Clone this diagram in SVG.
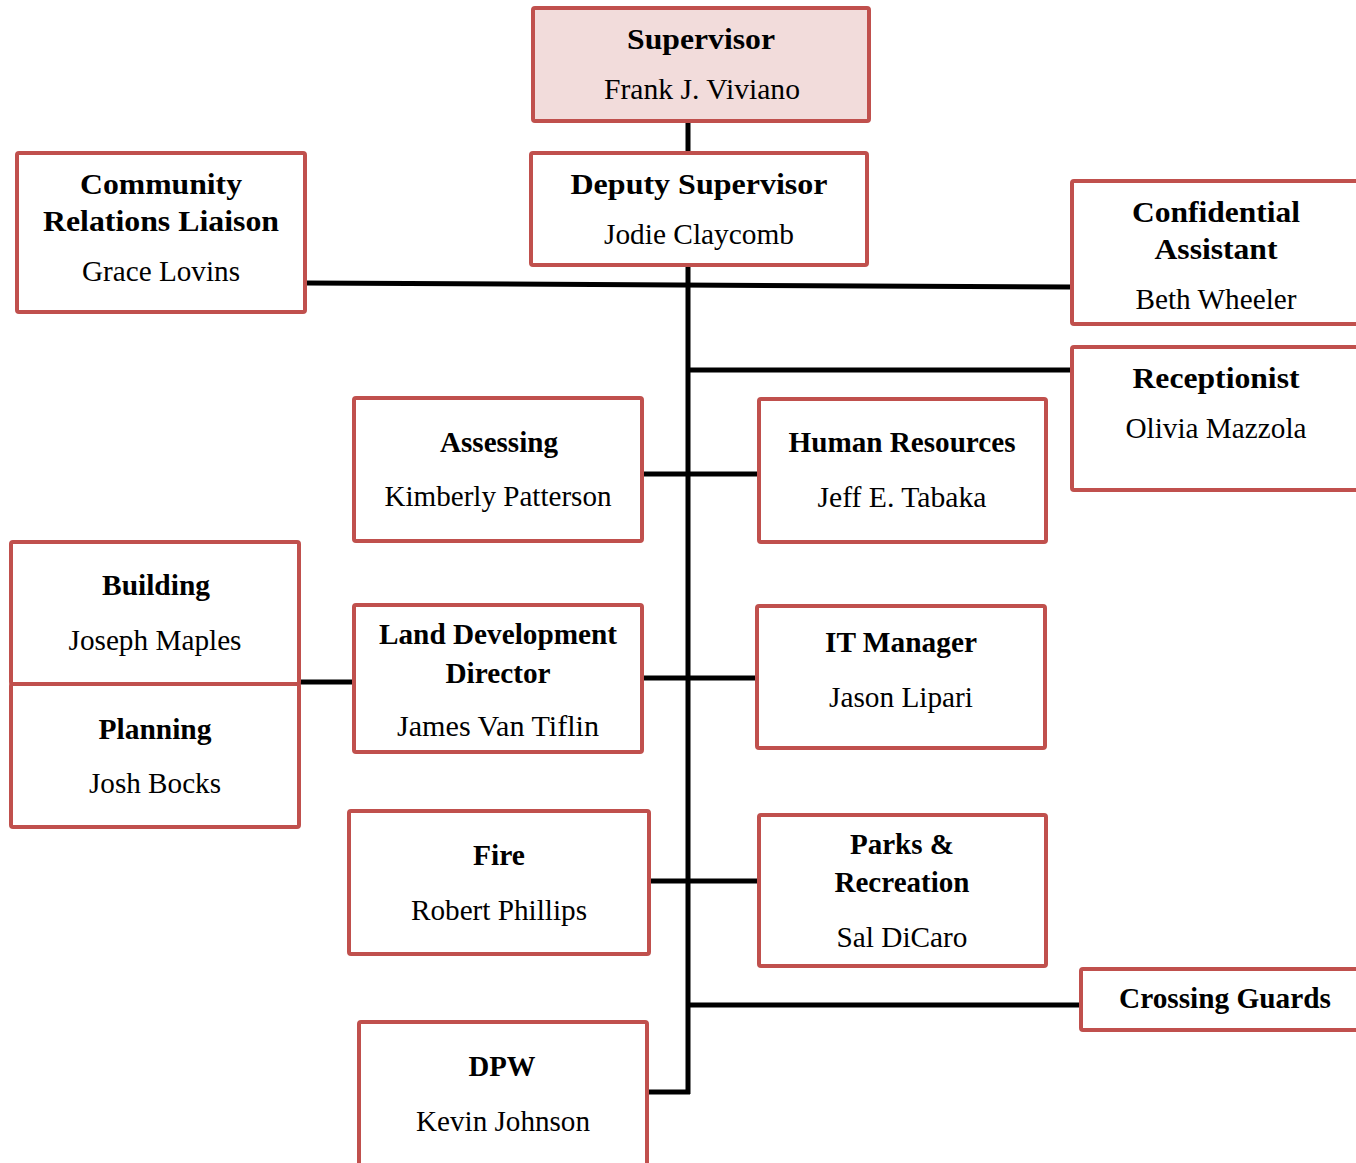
<svg xmlns="http://www.w3.org/2000/svg" width="1356" height="1163" viewBox="0 0 1356 1163">
<style>
.box{fill:#ffffff;stroke:#c0504d;stroke-width:4}
.top{fill:#f2dcdb}
.t{font-family:"Liberation Serif","Times New Roman",serif;font-weight:bold;font-size:30px;text-anchor:middle;fill:#000}
.n{font-family:"Liberation Serif","Times New Roman",serif;font-size:29px;text-anchor:middle;fill:#000}
.c{stroke:#000;stroke-width:5;fill:none}
</style>
<rect width="1356" height="1163" fill="#fff"/>
<g id="connectors">
<line class="c" x1="688" y1="122" x2="688" y2="152"/>
<line class="c" x1="688" y1="266" x2="688" y2="1094"/>
<line class="c" x1="306" y1="283" x2="1071" y2="287"/>
<line class="c" x1="688" y1="370" x2="1071" y2="370"/>
<line class="c" x1="643" y1="474" x2="758" y2="474"/>
<line class="c" x1="300" y1="682" x2="353" y2="682"/>
<line class="c" x1="643" y1="678" x2="756" y2="678"/>
<line class="c" x1="650" y1="881" x2="758" y2="881"/>
<line class="c" x1="688" y1="1005" x2="1080" y2="1005"/>
<line class="c" x1="648" y1="1092" x2="690" y2="1092"/>
</g>
<g id="supervisor">
<rect class="box top" x="533" y="8" width="336" height="113" rx="2"/>
<text class="t" x="701" y="49" font-size="31" textLength="148" lengthAdjust="spacingAndGlyphs">Supervisor</text>
<text class="n" x="702" y="99" textLength="196" lengthAdjust="spacingAndGlyphs">Frank J. Viviano</text>
</g>
<g id="deputy">
<rect class="box" x="531" y="153" width="336" height="112" rx="2"/>
<text class="t" x="699" y="194" font-size="31" textLength="257" lengthAdjust="spacingAndGlyphs">Deputy Supervisor</text>
<text class="n" x="699" y="244" textLength="190" lengthAdjust="spacingAndGlyphs">Jodie Claycomb</text>
</g>
<g id="community">
<rect class="box" x="17" y="153" width="288" height="159" rx="2"/>
<text class="t" x="161" y="194" textLength="162" lengthAdjust="spacingAndGlyphs">Community</text>
<text class="t" x="161" y="231" textLength="236" lengthAdjust="spacingAndGlyphs">Relations Liaison</text>
<text class="n" x="161" y="281" textLength="158" lengthAdjust="spacingAndGlyphs">Grace Lovins</text>
</g>
<g id="confidential">
<rect class="box" x="1072" y="181" width="300" height="143" rx="2"/>
<text class="t" x="1216" y="222" textLength="168" lengthAdjust="spacingAndGlyphs">Confidential</text>
<text class="t" x="1216" y="259" textLength="123" lengthAdjust="spacingAndGlyphs">Assistant</text>
<text class="n" x="1216" y="309" textLength="161" lengthAdjust="spacingAndGlyphs">Beth Wheeler</text>
</g>
<g id="receptionist">
<rect class="box" x="1072" y="347" width="300" height="143" rx="2"/>
<text class="t" x="1216" y="388" textLength="167" lengthAdjust="spacingAndGlyphs">Receptionist</text>
<text class="n" x="1216" y="438" textLength="181" lengthAdjust="spacingAndGlyphs">Olivia Mazzola</text>
</g>
<g id="assessing">
<rect class="box" x="354" y="398" width="288" height="143" rx="2"/>
<text class="t" x="499" y="452" textLength="118" lengthAdjust="spacingAndGlyphs">Assessing</text>
<text class="n" x="498" y="506" textLength="227" lengthAdjust="spacingAndGlyphs">Kimberly Patterson</text>
</g>
<g id="hr">
<rect class="box" x="759" y="399" width="287" height="143" rx="2"/>
<text class="t" x="902" y="452" textLength="227" lengthAdjust="spacingAndGlyphs">Human Resources</text>
<text class="n" x="902" y="507" textLength="169" lengthAdjust="spacingAndGlyphs">Jeff E. Tabaka</text>
</g>
<g id="building">
<rect class="box" x="11" y="542" width="288" height="142" rx="2"/>
<text class="t" x="156" y="595" textLength="108" lengthAdjust="spacingAndGlyphs">Building</text>
<text class="n" x="155" y="650" textLength="173" lengthAdjust="spacingAndGlyphs">Joseph Maples</text>
</g>
<g id="planning">
<rect class="box" x="11" y="684" width="288" height="143" rx="2"/>
<text class="t" x="155" y="739" textLength="113" lengthAdjust="spacingAndGlyphs">Planning</text>
<text class="n" x="155" y="793" textLength="132" lengthAdjust="spacingAndGlyphs">Josh Bocks</text>
</g>
<g id="landdev">
<rect class="box" x="354" y="605" width="288" height="147" rx="2"/>
<text class="t" x="498" y="644" textLength="238" lengthAdjust="spacingAndGlyphs">Land Development</text>
<text class="t" x="498" y="683" textLength="105" lengthAdjust="spacingAndGlyphs">Director</text>
<text class="n" x="498" y="736" textLength="202" lengthAdjust="spacingAndGlyphs">James Van Tiflin</text>
</g>
<g id="it">
<rect class="box" x="757" y="606" width="288" height="142" rx="2"/>
<text class="t" x="901" y="652" textLength="152" lengthAdjust="spacingAndGlyphs">IT Manager</text>
<text class="n" x="901" y="707" textLength="144" lengthAdjust="spacingAndGlyphs">Jason Lipari</text>
</g>
<g id="fire">
<rect class="box" x="349" y="811" width="300" height="143" rx="2"/>
<text class="t" x="499" y="865" textLength="52" lengthAdjust="spacingAndGlyphs">Fire</text>
<text class="n" x="499" y="920" textLength="176" lengthAdjust="spacingAndGlyphs">Robert Phillips</text>
</g>
<g id="parks">
<rect class="box" x="759" y="815" width="287" height="151" rx="2"/>
<text class="t" x="902" y="854" textLength="104" lengthAdjust="spacingAndGlyphs">Parks &amp;</text>
<text class="t" x="902" y="892" textLength="135" lengthAdjust="spacingAndGlyphs">Recreation</text>
<text class="n" x="902" y="947" textLength="131" lengthAdjust="spacingAndGlyphs">Sal DiCaro</text>
</g>
<g id="crossing">
<rect class="box" x="1081" y="969" width="290" height="61" rx="2"/>
<text class="t" x="1225" y="1008" textLength="212" lengthAdjust="spacingAndGlyphs">Crossing Guards</text>
</g>
<g id="dpw">
<rect class="box" x="359" y="1022" width="288" height="160" rx="2"/>
<text class="t" x="502" y="1076" textLength="67" lengthAdjust="spacingAndGlyphs">DPW</text>
<text class="n" x="503" y="1131" textLength="174" lengthAdjust="spacingAndGlyphs">Kevin Johnson</text>
</g>
</svg>
